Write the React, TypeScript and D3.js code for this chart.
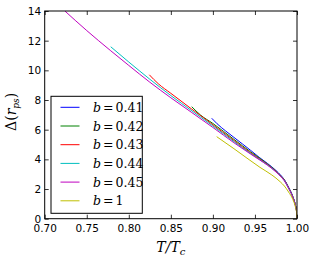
import { useEffect, useRef } from "react"
import { axisBottom, axisLeft, axisTop, axisRight, scaleLinear, line, curveMonotoneX, select } from "d3"

// T/Tc and Delta values, one array per b
const tB041 = [0.8986, 0.905, 0.915, 0.925, 0.945, 0.955, 0.965, 0.975, 0.98, 0.985, 0.99, 0.995, 0.998, 0.9995, 1.0]
const dB041 = [6.77, 6.4, 5.92, 5.48, 4.6, 4.14, 3.72, 3.25, 2.97, 2.63, 2.12, 1.5, 0.95, 0.48, 0]
const tB042 = [0.8748, 0.885, 0.9, 0.925, 0.945, 0.955, 0.965, 0.975, 0.98, 0.985, 0.99, 0.995, 0.998, 0.9995, 1.0]
const dB042 = [7.55, 7.0, 6.42, 5.35, 4.5, 4.1, 3.68, 3.22, 2.94, 2.61, 2.1, 1.49, 0.94, 0.47, 0]
const tB043 = [0.8244, 0.835, 0.85, 0.875, 0.9, 0.925, 0.945, 0.955, 0.965, 0.975, 0.98, 0.985, 0.99, 0.995, 0.998, 0.9995, 1.0]
const dB043 = [9.7, 9.1, 8.45, 7.38, 6.33, 5.27, 4.44, 4.05, 3.65, 3.19, 2.92, 2.59, 2.08, 1.47, 0.93, 0.47, 0]
const tB044 = [0.7785, 0.8, 0.825, 0.85, 0.875, 0.9, 0.925, 0.945, 0.955, 0.965, 0.975, 0.98, 0.985, 0.99, 0.995, 0.998, 0.9995, 1.0]
const dB044 = [11.59, 10.56, 9.4, 8.3, 7.27, 6.25, 5.2, 4.39, 4.01, 3.62, 3.17, 2.9, 2.57, 2.06, 1.46, 0.93, 0.46, 0]
const tB045 = [0.724, 0.75, 0.7785, 0.8, 0.825, 0.85, 0.875, 0.9, 0.925, 0.945, 0.955, 0.965, 0.975, 0.98, 0.985, 0.99, 0.995, 0.998, 0.9995, 1.0]
const dB045 = [14.0, 12.68, 11.32, 10.33, 9.2, 8.15, 7.15, 6.15, 5.12, 4.35, 3.98, 3.6, 3.15, 2.88, 2.55, 2.05, 1.45, 0.92, 0.46, 0]
const tB1 = [0.9045, 0.925, 0.943, 0.956, 0.97, 0.98, 0.985, 0.99, 0.995, 0.998, 0.9995, 1.0]
const dB1 = [5.53, 4.72, 3.98, 3.46, 2.95, 2.49, 2.2, 1.8, 1.3, 0.82, 0.41, 0]

const labels = ["0.41", "0.42", "0.43", "0.44", "0.45", "1"]
const colors = ["#0000ff", "#008000", "#ff0000", "#00bfbf", "#bf00bf", "#bfbf00"]
const series = [[tB041, dB041], [tB042, dB042], [tB043, dB043], [tB044, dB044], [tB045, dB045], [tB1, dB1]]

const xTicks = [0.70, 0.75, 0.80, 0.85, 0.90, 0.95, 1.00]
const yTicks = [0, 2, 4, 6, 8, 10, 12, 14]

const W = 316
const H = 260
const margin = { top: 11, right: 19, bottom: 41.3, left: 44.7 }

function Axis({ gen, transform, labels }: any) {
  const ref = useRef<SVGGElement>(null)
  useEffect(() => {
    if (ref.current) {
      const g = select(ref.current)
      g.call(gen)
      g.select(".domain").remove()
      g.selectAll("line").attr("stroke", "black").attr("stroke-width", 0.8)
      g.selectAll("text")
        .attr("font-family", "DejaVu Sans")
        .attr("font-size", "10.5px")
        .attr("fill", "black")
        .style("display", labels ? null : "none")
    }
  }, [gen])
  return <g ref={ref} transform={transform} />
}

export default function App() {
  const width = W - margin.left - margin.right
  const height = H - margin.top - margin.bottom
  const x = scaleLinear().domain([0.7, 1.0]).range([0, width])
  const y = scaleLinear().domain([0, 14]).range([height, 0])
  const path = line<number>().curve(curveMonotoneX)

  const bottom = axisBottom(x).tickValues(xTicks).tickSizeInner(-4).tickSizeOuter(0).tickPadding(5.5).tickFormat((d: any) => d.toFixed(2))
  const top = axisTop(x).tickValues(xTicks).tickSizeInner(-4).tickSizeOuter(0)
  const left = axisLeft(y).tickValues(yTicks).tickSizeInner(-4).tickSizeOuter(0).tickPadding(3.5)
  const right = axisRight(y).tickValues(yTicks).tickSizeInner(-4).tickSizeOuter(0)

  const legX = 51 - margin.left
  const legY = 96.3 - margin.top
  const legRow = 18.7

  return (
    <svg width={W} height={H} style={{ position: "absolute", left: 0, top: 0, background: "white" }}>
      <defs>
        <clipPath id="plot">
          <rect x={0} y={0} width={width} height={height} />
        </clipPath>
      </defs>
      <g transform={`translate(${margin.left}, ${margin.top})`}>
        <g clipPath="url(#plot)">
          {series.map(([ts, ds], i) => (
            <path
              key={labels[i]}
              d={path.x((_, j) => x(ts[j])).y((d) => y(d))(ds) || ""}
              fill="none"
              stroke={colors[i]}
              strokeWidth={1}
            />
          ))}
        </g>
        <rect x={legX} y={legY} width={142.3 - 51} height={213.3 - 96.3} fill="white" stroke="black" strokeWidth={1} />
        {labels.map((lab, i) => {
          const cy = legY + 11 + i * legRow
          return (
            <g key={`leg-${lab}`}>
              <line x1={legX + 9.5} x2={legX + 28.5} y1={cy} y2={cy} stroke={colors[i]} strokeWidth={1} />
              <text x={legX + 42} y={cy + 4.5} fontFamily="DejaVu Serif" fontSize="12.5px" fill="black">
                <tspan fontStyle="italic">b</tspan>
                <tspan dx={2}>=</tspan>
                <tspan dx={2}>{lab}</tspan>
              </text>
            </g>
          )
        })}
        <rect x={0} y={0} width={width} height={height} fill="none" stroke="black" strokeWidth={1} />
        <Axis gen={bottom} transform={`translate(0, ${height})`} labels />
        <Axis gen={top} transform="translate(0, 0)" />
        <Axis gen={left} transform="translate(0, 0)" labels />
        <Axis gen={right} transform={`translate(${width}, 0)`} />
        <text x={width / 2} y={height + 33} textAnchor="middle" fontFamily="DejaVu Serif" fontSize="14px" fontStyle="italic" fill="black">
          T/T<tspan fontSize="10px" dy={3}>c</tspan>
        </text>
        <text transform={`translate(${-29}, ${height / 2 - 3}) rotate(-90)`} textAnchor="middle" fontFamily="DejaVu Serif" fontSize="14px" fill="black">
          Δ(<tspan fontStyle="italic">r</tspan><tspan fontStyle="italic" fontSize="9px" dy={3}>ps</tspan><tspan dy={-3}>)</tspan>
        </text>
      </g>
    </svg>
  )
}
